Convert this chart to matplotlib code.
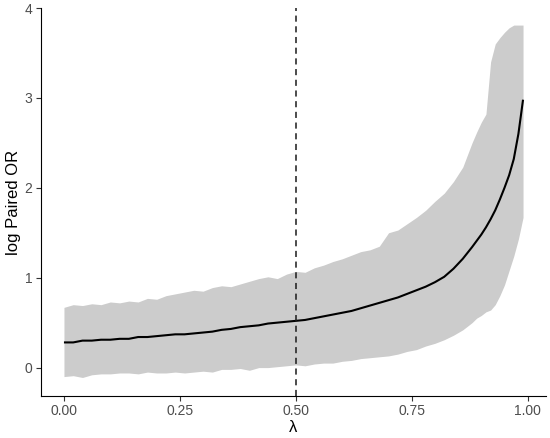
import matplotlib
matplotlib.use("Agg")
import matplotlib.pyplot as plt
import numpy as np

plt.rcParams['font.family'] = ['Liberation Sans', 'DejaVu Sans']

lam = [0.00, 0.02, 0.04, 0.06, 0.08, 0.10, 0.12, 0.14, 0.16, 0.18,
       0.20, 0.22, 0.24, 0.26, 0.28, 0.30, 0.32, 0.34, 0.36, 0.38,
       0.40, 0.42, 0.44, 0.46, 0.48, 0.50, 0.52, 0.54, 0.56, 0.58,
       0.60, 0.62, 0.64, 0.66, 0.68, 0.70, 0.72, 0.74, 0.76, 0.78,
       0.80, 0.82, 0.84, 0.86, 0.88, 0.89, 0.90, 0.91, 0.92, 0.93,
       0.94, 0.95, 0.96, 0.97, 0.98, 0.99]

mean_or = [0.28, 0.28, 0.30, 0.30, 0.31, 0.31, 0.32, 0.32, 0.34, 0.34,
           0.35, 0.36, 0.37, 0.37, 0.38, 0.39, 0.40, 0.42, 0.43, 0.45,
           0.46, 0.47, 0.49, 0.50, 0.51, 0.52, 0.53, 0.55, 0.57, 0.59,
           0.61, 0.63, 0.66, 0.69, 0.72, 0.75, 0.78, 0.82, 0.86, 0.90,
           0.95, 1.01, 1.10, 1.21, 1.34, 1.41, 1.48, 1.56, 1.65, 1.75,
           1.87, 2.00, 2.14, 2.32, 2.60, 2.98]

upper_or = [0.67, 0.70, 0.69, 0.71, 0.70, 0.73, 0.72, 0.74, 0.73, 0.77,
            0.76, 0.80, 0.82, 0.84, 0.86, 0.85, 0.89, 0.91, 0.90, 0.93,
            0.96, 0.99, 1.01, 0.99, 1.04, 1.07, 1.06, 1.11, 1.14, 1.18,
            1.21, 1.25, 1.29, 1.31, 1.35, 1.50, 1.53, 1.60, 1.67, 1.75,
            1.85, 1.94, 2.07, 2.23, 2.50, 2.62, 2.73, 2.82, 3.40, 3.60,
            3.67, 3.73, 3.78, 3.81, 3.81, 3.81]

lower_or = [-0.10, -0.09, -0.11, -0.08, -0.07, -0.07, -0.06, -0.06, -0.07, -0.05,
            -0.06, -0.06, -0.05, -0.06, -0.05, -0.04, -0.05, -0.02, -0.02, -0.01,
            -0.03, 0.00, 0.00, 0.01, 0.02, 0.03, 0.02, 0.04, 0.05, 0.05,
            0.07, 0.08, 0.10, 0.11, 0.12, 0.13, 0.15, 0.18, 0.20, 0.24,
            0.27, 0.31, 0.36, 0.42, 0.50, 0.55, 0.58, 0.62, 0.64, 0.70,
            0.80, 0.92, 1.08, 1.24, 1.43, 1.67]

vline_x = 0.5
x_ticks = [0.00, 0.25, 0.50, 0.75, 1.00]
x_tick_labels = ["0.00", "0.25", "0.50", "0.75", "1.00"]
y_ticks = [0, 1, 2, 3, 4]
y_tick_labels = ["0", "1", "2", "3", "4"]

fig = plt.figure(figsize=(5.5, 4.38), dpi=100)
ax = fig.add_axes([41/550, 42/438, 505/550, 388/438])

ax.fill_between(lam, lower_or, upper_or, color="#CCCCCC", linewidth=0)
ax.plot(lam, mean_or, color="black", lw=1.5, solid_capstyle="butt")
ax.axvline(vline_x, color="#1a1a1a", lw=1.1, linestyle=(0, (4, 3)))

ax.set_xlim(-0.0495, 1.0395)
ax.set_ylim(-0.316, 4.0)
ax.set_xticks(x_ticks)
ax.set_xticklabels(x_tick_labels)
ax.set_yticks(y_ticks)
ax.set_yticklabels(y_tick_labels)

for s in ["top", "right"]:
    ax.spines[s].set_visible(False)
for s in ["left", "bottom"]:
    ax.spines[s].set_linewidth(0.8)
    ax.spines[s].set_color("black")

ax.tick_params(axis="both", length=3.6, width=0.8, color="#333333",
               labelcolor="#4D4D4D", labelsize=10, pad=2.5)

ax.set_xlabel("λ", fontsize=12, color="black", labelpad=1)
ax.set_ylabel("log Paired OR", fontsize=12, color="black")
ax.yaxis.set_label_coords(-0.039, 0.5)

fig.savefig("out.png", dpi=100)
